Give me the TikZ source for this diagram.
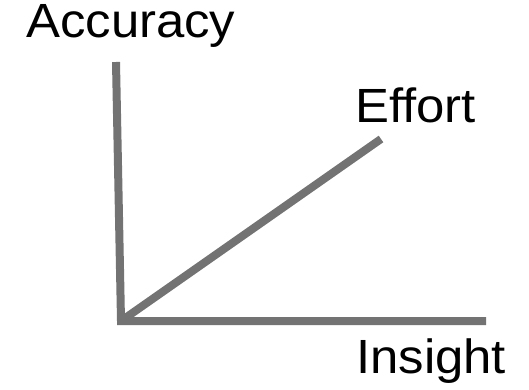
\documentclass[tikz,border=0pt]{standalone}
\usepackage{fontspec}
\setmainfont{Liberation Sans}
\usepackage{tikz}
\usetikzlibrary{positioning}

\begin{document}
\begin{tikzpicture}[
    x=1pt, y=-1pt,
    axis/.style={draw=black!55, line width=8pt, line join=miter},
    lbl/.style={anchor=base west, inner sep=0pt, xscale=1.06,
                font=\fontsize{48}{52}\selectfont}
]
\useasboundingbox (0,0) rectangle (529,390);

% Axes corners
\coordinate (origin) at (121,321);
\coordinate (ytop)   at (116,62);
\coordinate (xend)   at (486,321);
\coordinate (eend)   at (381,139);

% Labels
\node[lbl] (accuracy) at (26,38)  {Accuracy};
\node[lbl] (effort)   at (355,123) {Effort};
\node[lbl] (insight)  at (356,373) {Insight};

% Lines
\draw[axis] (ytop) -- (origin) -- (xend);
\draw[axis] (origin) -- (eend);

\end{tikzpicture}
\end{document}
